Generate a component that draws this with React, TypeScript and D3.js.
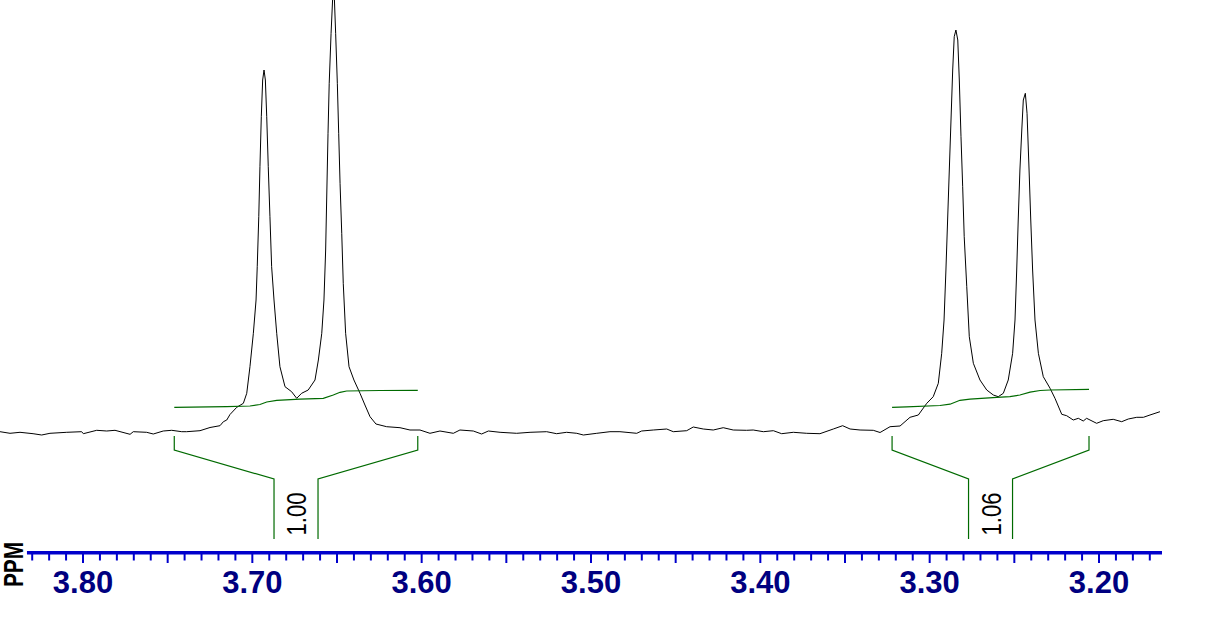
import React from "react";
import * as d3 from "d3";

// Spectrum trace (chemical shift in ppm, intensity in arbitrary units)
const specPpm = [
  3.849, 3.8431, 3.8372, 3.8295, 3.8244, 3.8195, 3.8096, 3.8008, 3.7998, 3.7919,
  3.786, 3.7811, 3.7722, 3.7703, 3.7624, 3.7585, 3.7526, 3.7476, 3.7417, 3.7388,
  3.7309, 3.725, 3.7191, 3.7171, 3.7151, 3.7132, 3.7092, 3.7053, 3.7033, 3.7014,
  3.6994, 3.6978, 3.6971, 3.6962, 3.6955, 3.6947, 3.6939, 3.6931, 3.6923, 3.6915,
  3.6906, 3.6896, 3.6886, 3.6872, 3.6856, 3.6837, 3.6807, 3.6768, 3.6738, 3.6709,
  3.667, 3.663, 3.661, 3.659, 3.6577, 3.6567, 3.6561, 3.6553, 3.6546, 3.6535,
  3.6525, 3.6516, 3.6508, 3.6498, 3.649, 3.6482, 3.6472, 3.6463, 3.6449, 3.6429,
  3.64, 3.6364, 3.6335, 3.6305, 3.627, 3.6207, 3.6128, 3.6069, 3.601, 3.5951,
  3.5892, 3.5813, 3.5774, 3.5695, 3.5646, 3.5606, 3.5537, 3.5439, 3.536, 3.5262,
  3.5203, 3.5144, 3.5084, 3.5045, 3.4966, 3.4888, 3.4829, 3.473, 3.4701, 3.4632,
  3.4553, 3.4514, 3.4435, 3.4396, 3.4337, 3.4278, 3.4219, 3.416, 3.4081, 3.4042,
  3.3982, 3.3923, 3.3874, 3.3805, 3.3726, 3.3648, 3.3569, 3.3514, 3.347, 3.3411,
  3.3333, 3.3293, 3.3234, 3.3175, 3.3116, 3.3067, 3.3017, 3.2979, 3.2949, 3.2929,
  3.2915, 3.2904, 3.2894, 3.2884, 3.2874, 3.2864, 3.2855, 3.2845, 3.2834, 3.2825,
  3.2815, 3.2805, 3.2796, 3.2781, 3.2766, 3.2742, 3.2703, 3.2663, 3.2624, 3.2595,
  3.2565, 3.2536, 3.251, 3.2496, 3.2486, 3.2477, 3.2467, 3.2456, 3.2447, 3.2435,
  3.2425, 3.2413, 3.2403, 3.2392, 3.2378, 3.2358, 3.2329, 3.2289, 3.226, 3.222,
  3.2191, 3.2152, 3.2122, 3.2093, 3.2073, 3.2014, 3.1975, 3.1916, 3.1866, 3.1827,
  3.1777, 3.1738, 3.1699, 3.164,
];
const specInt = [
  1.3, -0.3, 0.7, -0.7, -2, -0.3, 0.7, 1.3, -0.7, 2.7,
  2, 2.7, -1.3, 1.3, 0.7, -1, 2, 2.7, 1.3, 1.3,
  2.3, 5.5, 7.3, 11.3, 13, 18.5, 25.7, 29.7, 39.7, 66.3,
  99.7, 133, 166.3, 216.3, 266.3, 316.3, 353, 363, 353, 316.3,
  266.3, 216.3, 166.3, 133, 99.7, 66.3, 46.3, 41.3, 34.7, 39.7,
  43, 53, 73, 99.7, 133, 183, 233, 299.7, 349.7, 399.7,
  437, 437, 399.7, 349.7, 299.7, 249.7, 199.7, 149.7, 99.7, 66.3,
  53, 39.7, 28, 16.3, 9, 6.3, 5.3, 3, 3, -0.3,
  2, -0.3, 3, 2, -1, 2, 0.7, -0.3, 0.7, 1.3,
  -0.7, 0.7, -0.3, -2, -0.3, 1.3, 1.3, -0.3, 2, 3,
  4, 1.3, 2.3, 6, 4, 3, 5.3, 3, 2.7, 3,
  1.3, 2.3, -0.7, 0.7, -0.3, -0.7, 4, 7.3, 4, 3,
  2.7, 0.5, 6.3, 7, 15.7, 18, 29.7, 36.3, 49.7, 79.7,
  113, 163, 213, 263, 313, 363, 396.3, 403, 393, 353,
  296.3, 246.3, 196.3, 146.3, 96.3, 69.7, 53, 43, 38, 36.3,
  39.7, 53, 79.7, 113, 163, 213, 263, 303, 333, 339.7,
  319.7, 263, 213, 163, 113, 79.7, 56.3, 44.7, 34.7, 18.7,
  17.3, 13, 14.7, 12, 14.7, 9.7, 12.3, 13.7, 11.3, 14,
  15.7, 15.7, 18, 21.3,
];

// Integral curves
const int1Ppm = [3.7461, 3.7151, 3.7014, 3.6955, 3.6915, 3.6856, 3.6719, 3.6581, 3.6522, 3.6482, 3.6443, 3.6246, 3.6023];
const int1Val = [25.7, 26.3, 27, 28.5, 31, 32.7, 33.8, 34.7, 38, 40.7, 42, 42.5, 42.7];
const int2Ppm = [3.3222, 3.3136, 3.2939, 3.288, 3.2821, 3.2762, 3.2604, 3.2526, 3.2467, 3.2407, 3.2348, 3.2289, 3.2059];
const int2Val = [25.7, 26.2, 27.5, 28.8, 32.7, 33.8, 35.7, 36.3, 38, 40.8, 42.5, 43, 43.7];

// Integration regions and values
const regionStart = [3.7461, 3.3222];
const regionEnd = [3.6023, 3.2059];
const integralLabels = ["1.00", "1.06"];

// Axis
const axisDomain = [3.8331, 3.1628];
const labelTicks = [3.8, 3.7, 3.6, 3.5, 3.4, 3.3, 3.2];
const axisTitle = "PPM";

export default function App() {
  const W = 1209;
  const H = 617;
  const x = d3.scaleLinear().domain([3.8, 3.2]).range([83, 1099]);
  const y = d3.scaleLinear().domain([0, 433]).range([433, 0]);

  const spec = specPpm.map((p, i) => [p, specInt[i]] as [number, number]);
  const line = d3
    .line<[number, number]>()
    .x((d) => x(d[0]))
    .y((d) => y(d[1]));

  const ints = [
    int1Ppm.map((p, i) => [p, int1Val[i]] as [number, number]),
    int2Ppm.map((p, i) => [p, int2Val[i]] as [number, number]),
  ];

  // minor ticks every 0.01 ppm
  const ticks: number[] = [];
  for (let k = 383; k >= 317; k--) ticks.push(k / 100);

  const axisY = 552.7;
  const green = "#006a00";

  return (
    <svg
      width={W}
      height={H}
      style={{ position: "absolute", left: 0, top: 0, background: "#fff" }}
      fontFamily="Liberation Sans, Arial, sans-serif"
    >
      <rect x={0} y={0} width={W} height={H} fill="#fff" />
      {/* spectrum */}
      <path d={line(spec) || ""} fill="none" stroke="#000" strokeWidth={1} />
      {/* integral curves */}
      {ints.map((pts, i) => (
        <path key={i} d={line(pts) || ""} fill="none" stroke={green} strokeWidth={1.2} />
      ))}
      {/* integration brackets */}
      {regionStart.map((s, i) => {
        const x0 = x(s);
        const x1 = x(regionEnd[i]);
        const c = (x0 + x1) / 2;
        const a = c - 22;
        const b = c + 22;
        const d = `M${x0},436 L${x0},450 L${a},479 L${a},539 M${x1},436 L${x1},450 L${b},479 L${b},539`;
        return (
          <g key={i}>
            <path d={d} fill="none" stroke={green} strokeWidth={1.2} />
            <text
              transform={`translate(${c + 10},514) rotate(-90)`}
              textAnchor="middle"
              fontSize={28}
              textLength={43}
              lengthAdjust="spacingAndGlyphs"
              fill="#000"
            >
              {integralLabels[i]}
            </text>
          </g>
        );
      })}
      {/* axis */}
      <line
        x1={x(axisDomain[0])}
        x2={x(axisDomain[1])}
        y1={axisY}
        y2={axisY}
        stroke="#0000cc"
        strokeWidth={3.6}
      />
      {ticks.map((t, i) => {
        const major = Math.round(t * 100) % 5 === 0;
        return (
          <line
            key={i}
            x1={x(t)}
            x2={x(t)}
            y1={axisY}
            y2={major ? 563 : 560.5}
            stroke="#0000cc"
            strokeWidth={2}
          />
        );
      })}
      {labelTicks.map((t, i) => (
        <text
          key={i}
          x={x(t)}
          y={593}
          textAnchor="middle"
          fontSize={31}
          fontWeight="bold"
          fill="#000080"
        >
          {d3.format(".2f")(t)}
        </text>
      ))}
      <text
        transform="translate(23,564.5) rotate(-90)"
        textAnchor="middle"
        fontSize={27}
        fontWeight="bold"
        textLength={45}
        lengthAdjust="spacingAndGlyphs"
        fill="#000"
      >
        {axisTitle}
      </text>
    </svg>
  );
}
